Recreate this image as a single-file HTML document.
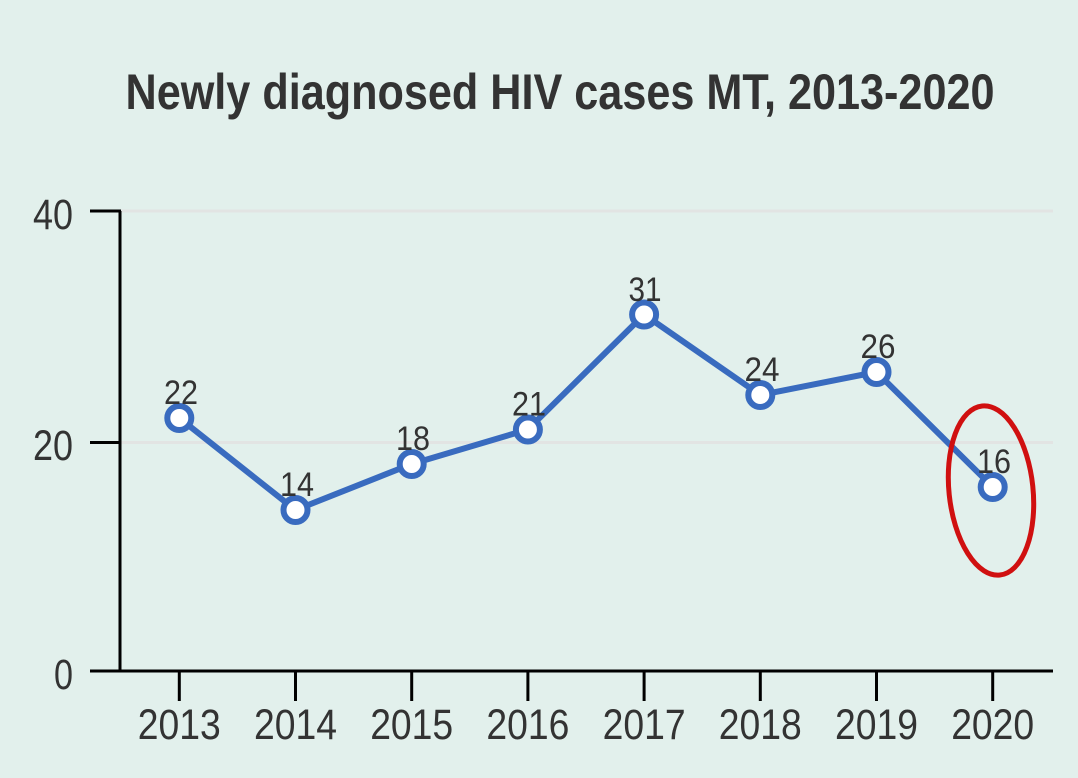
<!DOCTYPE html>
<html><head><meta charset="utf-8"><style>
html,body{margin:0;padding:0;background:#e2f0ec;}
svg{display:block;}
text{font-family:"Liberation Sans",sans-serif;fill:#333333;}
</style></head><body>
<svg width="1078" height="778" viewBox="0 0 1078 778" xmlns="http://www.w3.org/2000/svg">
<rect width="1078" height="778" fill="#e2f0ec"/>
<text x="560" y="109" text-anchor="middle" font-size="50" font-weight="bold" textLength="869" lengthAdjust="spacingAndGlyphs">Newly diagnosed HIV cases MT, 2013-2020</text>
<!-- grid -->
<line x1="121" y1="211" x2="1053" y2="211" stroke="#e2e4e3" stroke-width="3"/>
<line x1="121" y1="442.5" x2="1053" y2="442.5" stroke="#e2e4e3" stroke-width="3"/>
<!-- axes -->
<line x1="120" y1="211" x2="120" y2="672" stroke="#000" stroke-width="3"/>
<line x1="90" y1="671" x2="1053" y2="671" stroke="#000" stroke-width="3"/>
<line x1="90" y1="211" x2="121" y2="211" stroke="#000" stroke-width="3"/>
<line x1="90" y1="442.5" x2="121" y2="442.5" stroke="#000" stroke-width="3"/>
<g stroke="#000" stroke-width="3">
<line x1="179.3" y1="671" x2="179.3" y2="701"/>
<line x1="295.5" y1="671" x2="295.5" y2="701"/>
<line x1="411.7" y1="671" x2="411.7" y2="701"/>
<line x1="527.9" y1="671" x2="527.9" y2="701"/>
<line x1="644.1" y1="671" x2="644.1" y2="701"/>
<line x1="760.3" y1="671" x2="760.3" y2="701"/>
<line x1="876.5" y1="671" x2="876.5" y2="701"/>
<line x1="992.7" y1="671" x2="992.7" y2="701"/>
</g>
<!-- y labels -->
<text x="73" y="229" text-anchor="end" font-size="43" textLength="40" lengthAdjust="spacingAndGlyphs">40</text>
<text x="73" y="460" text-anchor="end" font-size="43" textLength="40" lengthAdjust="spacingAndGlyphs">20</text>
<text x="73" y="689" text-anchor="end" font-size="43" textLength="19" lengthAdjust="spacingAndGlyphs">0</text>
<!-- x labels -->
<g font-size="43">
<text x="179.3" y="739" text-anchor="middle" textLength="83" lengthAdjust="spacingAndGlyphs">2013</text>
<text x="295.5" y="739" text-anchor="middle" textLength="83" lengthAdjust="spacingAndGlyphs">2014</text>
<text x="411.7" y="739" text-anchor="middle" textLength="83" lengthAdjust="spacingAndGlyphs">2015</text>
<text x="527.9" y="739" text-anchor="middle" textLength="83" lengthAdjust="spacingAndGlyphs">2016</text>
<text x="644.1" y="739" text-anchor="middle" textLength="83" lengthAdjust="spacingAndGlyphs">2017</text>
<text x="760.3" y="739" text-anchor="middle" textLength="83" lengthAdjust="spacingAndGlyphs">2018</text>
<text x="876.5" y="739" text-anchor="middle" textLength="83" lengthAdjust="spacingAndGlyphs">2019</text>
<text x="992.7" y="739" text-anchor="middle" textLength="83" lengthAdjust="spacingAndGlyphs">2020</text>
</g>
<!-- series -->
<polyline fill="none" stroke="#396bbf" stroke-width="6" stroke-linejoin="round"
 points="179.3,418 295.5,510 411.7,464 527.9,429.5 644.1,314.5 760.3,395 876.5,372 992.7,487"/>
<g fill="#ffffff" stroke="#396bbf" stroke-width="6">
<circle cx="179.3" cy="418" r="12"/>
<circle cx="295.5" cy="510" r="12"/>
<circle cx="411.7" cy="464" r="12"/>
<circle cx="527.9" cy="429.5" r="12"/>
<circle cx="644.1" cy="314.5" r="12"/>
<circle cx="760.3" cy="395" r="12"/>
<circle cx="876.5" cy="372" r="12"/>
<circle cx="992.7" cy="487" r="12"/>
</g>
<!-- data labels -->
<g font-size="34">
<text x="181" y="404" text-anchor="middle" textLength="34" lengthAdjust="spacingAndGlyphs">22</text>
<text x="297" y="496" text-anchor="middle" textLength="34" lengthAdjust="spacingAndGlyphs">14</text>
<text x="413" y="450" text-anchor="middle" textLength="34" lengthAdjust="spacingAndGlyphs">18</text>
<text x="529" y="415.5" text-anchor="middle" textLength="34" lengthAdjust="spacingAndGlyphs">21</text>
<text x="645" y="301" text-anchor="middle" textLength="33" lengthAdjust="spacingAndGlyphs">31</text>
<text x="762" y="381" text-anchor="middle" textLength="35" lengthAdjust="spacingAndGlyphs">24</text>
<text x="878" y="358" text-anchor="middle" textLength="35" lengthAdjust="spacingAndGlyphs">26</text>
<text x="994" y="473" text-anchor="middle" textLength="34" lengthAdjust="spacingAndGlyphs">16</text>
</g>
<!-- highlight ellipse -->
<ellipse cx="991" cy="490.5" rx="42" ry="85" fill="none" stroke="#d01010" stroke-width="5" transform="rotate(-6 991 490.5)"/>
</svg>
</body></html>
